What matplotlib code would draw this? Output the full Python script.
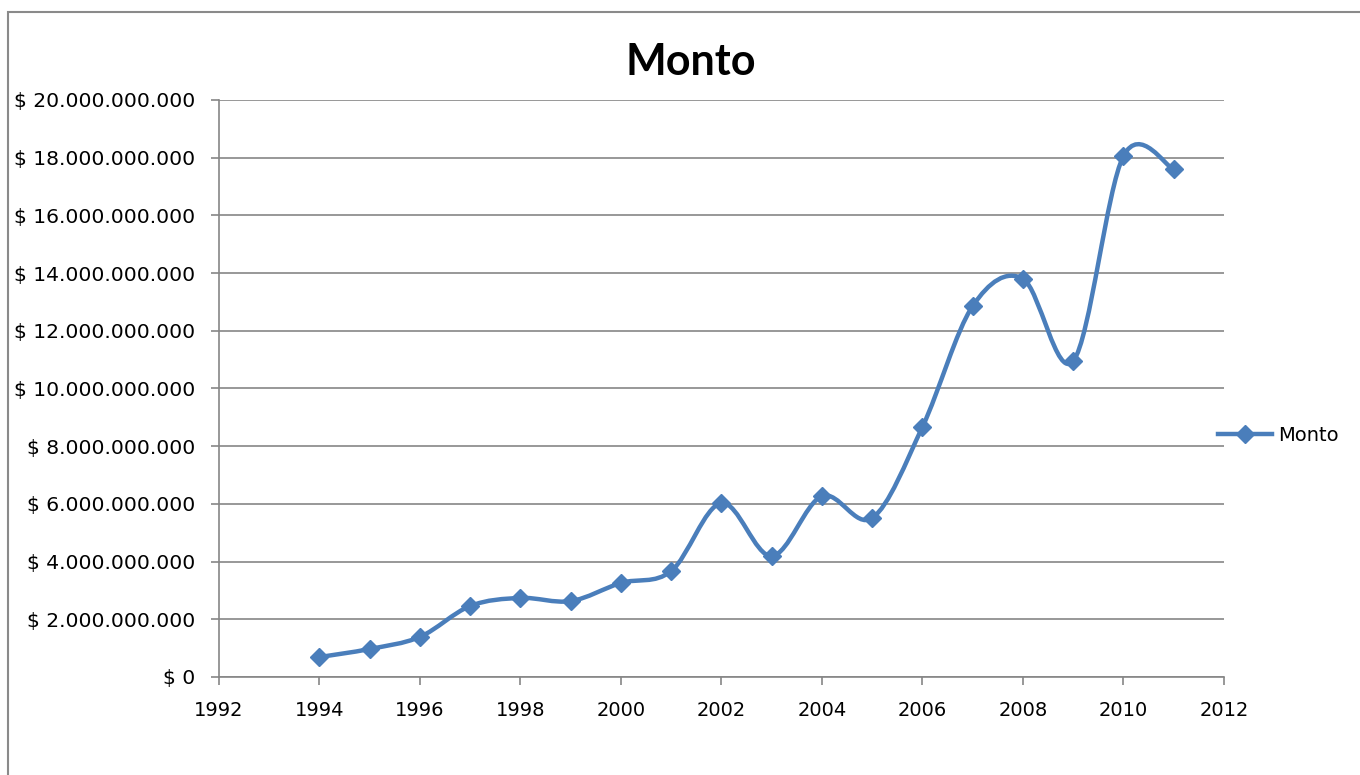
import matplotlib
matplotlib.use("Agg")
import matplotlib.pyplot as plt
from matplotlib.path import Path
from matplotlib.patches import PathPatch, Rectangle
from matplotlib.lines import Line2D
from matplotlib.ticker import FuncFormatter, MultipleLocator
import numpy as np

plt.rcParams['font.family'] = ['DejaVu Sans']

# data
years = [1994, 1995, 1996, 1997, 1998, 1999, 2000, 2001, 2002,
         2003, 2004, 2005, 2006, 2007, 2008, 2009, 2010, 2011]
monto = [0.69e9, 0.97e9, 1.39e9, 2.46e9, 2.74e9, 2.63e9, 3.26e9, 3.67e9, 6.03e9,
         4.19e9, 6.27e9, 5.51e9, 8.67e9, 12.86e9, 13.80e9, 10.95e9, 18.06e9, 17.60e9]
series_name = 'Monto'

blue = '#4A7EBB'
grid = '#868686'


def smooth_path(xs, ys, k=1 / 6):
    # bezier through the points, like Excel's "smoothed line"
    pts = np.column_stack([xs, ys]).astype(float)
    n = len(pts)
    verts = [pts[0]]
    codes = [Path.MOVETO]
    for i in range(n - 1):
        p0 = pts[max(i - 1, 0)]
        p1 = pts[i]
        p2 = pts[i + 1]
        p3 = pts[min(i + 2, n - 1)]
        c1 = p1 + (p2 - p0) * k
        c2 = p2 - (p3 - p1) * k
        verts += [c1, c2, p2]
        codes += [Path.CURVE4] * 3
    return Path(verts, codes)


fig = plt.figure(figsize=(13.6, 7.75), dpi=100)
ax = fig.add_axes([0.161, 0.1265, 0.739, 0.7445])

ax.add_patch(PathPatch(smooth_path(years, monto), fill=False, edgecolor=blue,
                       lw=3.2, capstyle='round', joinstyle='round', zorder=3))
ax.plot(years, monto, ls='none', marker='D', ms=9, color=blue, zorder=4)

ax.set_xlim(1992, 2012)
ax.set_ylim(0, 20e9)
ax.xaxis.set_major_locator(MultipleLocator(2))
ax.yaxis.set_major_locator(MultipleLocator(2e9))
ax.yaxis.set_major_formatter(FuncFormatter(
    lambda v, p: '$ ' + '{:,.0f}'.format(v).replace(',', '.')))

ax.grid(axis='y', color=grid, lw=1.2)
ax.set_axisbelow(True)
for s in ['top', 'right']:
    ax.spines[s].set_visible(False)
for s in ['left', 'bottom']:
    ax.spines[s].set_color(grid)
    ax.spines[s].set_linewidth(1.2)
ax.tick_params(axis='both', colors=grid, length=6, width=1.2, labelcolor='black',
               labelsize=14)
ax.tick_params(axis='x', pad=11)
ax.tick_params(axis='y', pad=11, labelsize=14.6)

fig.text(0.508, 0.92, 'Monto', ha='center', va='center', fontsize=31,
         fontweight='bold', family=['Lato', 'DejaVu Sans'])

handle = Line2D([], [], color=blue, lw=3.2, marker='D', ms=9)
fig.legend([handle], [series_name], loc='center left', bbox_to_anchor=(0.8956, 0.438),
           frameon=False, fontsize=14, handlelength=2.8, handletextpad=0.3,
           borderpad=0, borderaxespad=0)

# chart area border of the screenshot
fig.patches.append(Rectangle((8 / 1360, -0.1), 1.2, 1.1 - 12 / 775, transform=fig.transFigure,
                             fill=False, edgecolor='#8a8a8a', lw=1.5))

fig.savefig('out.png', dpi=100)
